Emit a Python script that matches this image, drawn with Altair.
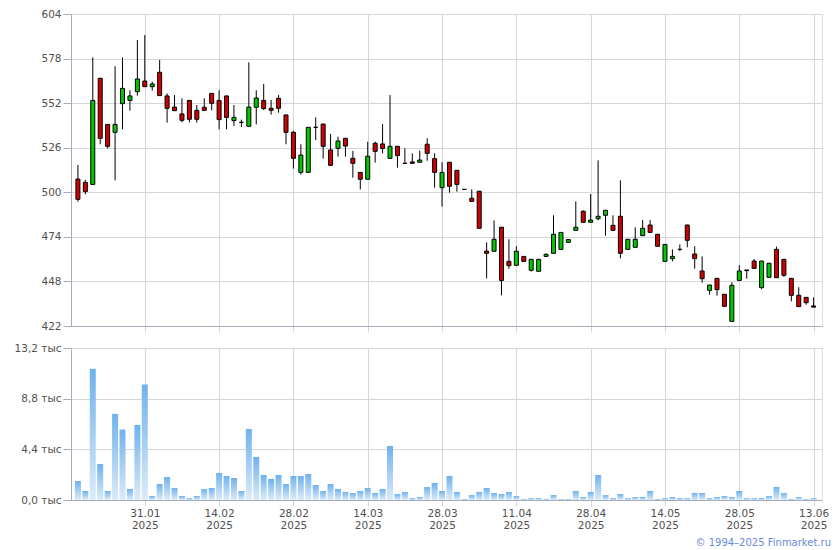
import altair as alt
import pandas as pd

# ---- data ----
tick_index = [9, 19, 29, 39, 49, 59, 69, 79, 89, 99]
tick_dates = ["31.01", "14.02", "28.02", "14.03", "28.03", "11.04", "28.04", "14.05", "28.05", "13.06"]
tick_year = "2025"

opens = [507.7, 505.8, 504.6, 566.5, 539.6, 535.0, 551.7, 553.6, 558.7, 564.9,
         561.6, 570.0, 556.2, 549.7, 545.7, 553.6, 547.8, 549.6, 557.7, 553.6,
         556.2, 541.8, 540.8, 538.5, 549.6, 553.6, 549.0, 554.8, 545.1, 535.0,
         511.6, 511.6, 537.9, 539.8, 524.7, 525.6, 531.5, 519.8, 511.6, 507.6,
         528.6, 528.2, 519.8, 526.8, 516.9, 517.7, 517.5, 528.0, 519.6, 502.7,
         517.5, 512.8, 501.7, 496.5, 500.6, 465.7, 465.6, 479.6, 459.7, 457.4,
         462.6, 454.5, 453.9, 462.6, 464.4, 466.7, 470.8, 477.8, 488.9, 482.5,
         484.6, 486.6, 480.7, 486.0, 466.7, 467.9, 474.7, 480.9, 475.5, 459.7,
         461.3, 466.7, 480.9, 464.0, 454.1, 442.8, 449.8, 440.5, 424.7, 448.6,
         454.3, 459.9, 444.4, 450.4, 466.7, 460.9, 449.8, 439.9, 438.7, 433.7]
highs = [515.9, 507.2, 578.7, 566.8, 539.8, 573.5, 578.7, 559.5, 588.8, 591.7,
         564.5, 577.2, 557.7, 556.7, 554.8, 553.8, 550.9, 554.8, 557.9, 559.5,
         556.4, 550.9, 542.4, 575.8, 559.5, 563.2, 553.8, 556.7, 545.3, 535.8,
         528.0, 537.9, 543.7, 540.0, 534.0, 532.4, 531.7, 524.1, 511.8, 529.5,
         529.5, 539.8, 556.7, 527.0, 525.6, 522.7, 524.3, 531.5, 522.7, 517.5,
         517.7, 513.0, 501.7, 501.7, 500.8, 470.8, 483.6, 479.8, 472.6, 468.5,
         462.8, 460.9, 460.9, 464.4, 486.6, 476.6, 472.4, 494.7, 489.5, 499.0,
         518.6, 489.5, 486.6, 507.0, 472.6, 479.6, 483.8, 483.8, 475.7, 469.6,
         466.7, 469.6, 481.1, 468.5, 462.6, 445.9, 450.0, 440.7, 447.5, 457.4,
         454.7, 461.0, 459.9, 458.6, 468.3, 460.9, 449.8, 444.6, 438.7, 438.7]
lows = [494.5, 498.8, 504.4, 528.0, 525.6, 507.0, 536.7, 547.6, 556.4, 561.4,
        559.3, 556.2, 540.6, 547.4, 540.8, 540.8, 540.6, 547.8, 547.8, 536.7,
        536.7, 538.7, 538.1, 538.5, 539.6, 548.0, 545.3, 546.4, 528.0, 513.8,
        510.3, 511.6, 530.5, 519.6, 515.7, 520.8, 520.8, 508.5, 501.7, 507.6,
        517.3, 522.7, 519.8, 514.4, 516.9, 516.9, 517.5, 518.4, 502.7, 491.6,
        499.8, 500.4, 501.7, 494.7, 479.0, 449.8, 465.6, 439.9, 455.4, 457.4,
        459.7, 453.8, 453.9, 462.6, 464.4, 466.7, 470.8, 477.8, 482.5, 482.5,
        483.6, 474.7, 477.8, 461.5, 466.7, 467.9, 474.7, 476.6, 468.5, 459.7,
        459.7, 465.6, 467.9, 455.4, 447.3, 440.3, 439.7, 433.5, 424.7, 448.6,
        449.6, 455.6, 443.4, 450.4, 450.2, 450.6, 436.4, 433.3, 434.4, 433.0]
closes = [495.9, 500.4, 553.6, 531.5, 526.8, 539.6, 560.6, 556.2, 566.1, 561.6,
          563.2, 556.4, 549.0, 547.6, 542.0, 542.6, 542.6, 547.8, 551.9, 542.4,
          543.7, 543.7, 540.8, 549.7, 555.0, 548.8, 547.8, 549.0, 535.0, 519.8,
          521.7, 537.9, 537.9, 526.8, 515.7, 529.9, 527.0, 516.9, 507.6, 521.0,
          523.9, 525.6, 526.8, 521.4, 516.9, 516.9, 518.8, 522.7, 511.6, 511.6,
          503.5, 504.6, 501.7, 494.7, 479.0, 464.4, 472.6, 448.6, 457.2, 465.6,
          459.7, 460.9, 460.9, 463.8, 475.5, 476.6, 472.4, 479.6, 482.5, 483.8,
          486.0, 489.5, 477.8, 464.4, 472.6, 472.6, 479.0, 476.6, 468.5, 469.6,
          462.6, 466.7, 472.0, 461.3, 449.6, 445.9, 443.2, 433.5, 445.7, 454.1,
          454.7, 455.6, 459.9, 458.6, 450.2, 451.6, 439.9, 433.3, 435.6, 433.0]
volumes = [1650, 780, 11390, 3130, 780, 7480, 6120, 960, 6520, 10030,
           350, 1390, 2000, 1040, 350, 170, 350, 960, 1040, 2350,
           2090, 1910, 780, 6170, 3740, 2170, 1830, 2170, 1390, 2090,
           2090, 2260, 1300, 780, 1390, 960, 700, 610, 780, 1040,
           610, 960, 4700, 520, 700, 170, 260, 1130, 1480, 780,
           2090, 700, 90, 430, 700, 1040, 610, 520, 700, 350,
           90, 170, 170, 90, 430, 90, 90, 780, 260, 700,
           2170, 430, 170, 520, 170, 260, 260, 780, 90, 170,
           260, 170, 170, 610, 610, 170, 260, 350, 260, 780,
           170, 170, 170, 350, 1130, 610, 90, 260, 90, 170]
price_ticks = [422, 448, 474, 500, 526, 552, 578, 604]
volume_ticks = [0, 4400, 8800, 13200]
copyright_text = "© 1994–2025 Finmarket.ru"

df = pd.DataFrame({"i": list(range(len(opens))), "open": opens, "high": highs,
                   "low": lows, "close": closes, "volume": volumes})
df["dir"] = ["up" if c > o else ("down" if c < o else "flat") for o, c in zip(opens, closes)]

FONT = "DejaVu Sans"
LABEL = "#505050"
GRID = "#d3d7dc"
DOMAIN = "#a7adb8"

xscale = alt.Scale(domain=[-0.93, 100.13], nice=False, zero=False, padding=0)
label_expr = "[" + ",".join(f"['{d}','{tick_year}']" for d in tick_dates) + "][round((datum.value-9)/10)]"

x_top = alt.X("i:Q", scale=xscale, title=None,
              axis=alt.Axis(values=tick_index, labels=False, grid=True, gridColor=GRID,
                            tickSize=6, tickColor=GRID, domainColor=DOMAIN))
x_bot = alt.X("i:Q", scale=xscale, title=None,
              axis=alt.Axis(values=tick_index, labelExpr=label_expr, grid=True, gridColor=GRID,
                            tickSize=6, tickColor=GRID, domainColor=DOMAIN, labelPadding=2,
                            labelFont=FONT, labelFontSize=10.5, labelColor=LABEL,
                            labelLineHeight=12, labelFlush=False))

yaxis_common = dict(grid=True, gridColor=GRID, tickSize=8, tickColor=DOMAIN, domainColor=DOMAIN,
                    labelPadding=2, labelFont=FONT, labelFontSize=10.5, labelColor=LABEL,
                    minExtent=62, maxExtent=62)

price_y = alt.Scale(domain=[422, 604], nice=False, zero=False)
base = alt.Chart(df)

wicks = base.mark_rule(color="black", strokeWidth=1).encode(
    x=x_top,
    y=alt.Y("low:Q", scale=price_y, title=None,
            axis=alt.Axis(values=price_ticks, labelExpr="format(datum.value, 'd')", **yaxis_common)),
    y2="high:Q",
)
bodies = base.mark_bar(size=4, stroke="black", strokeWidth=1).encode(
    x=x_top,
    y=alt.Y("open:Q", scale=price_y),
    y2="close:Q",
    color=alt.Color("dir:N", legend=None,
                    scale=alt.Scale(domain=["up", "down", "flat"],
                                    range=["#00c800", "#d00000", "#000000"])),
)
price = alt.layer(wicks, bodies).properties(width=751, height=312)

grad = alt.Gradient(gradient="linear",
                    stops=[alt.GradientStop(color="#6fb2ee", offset=0),
                           alt.GradientStop(color="#dcebf9", offset=1)],
                    x1=0, x2=0, y1=0, y2=1)
vol_bars = base.mark_bar(size=6, color=grad).encode(
    x=x_bot,
    y=alt.Y("volume:Q", scale=alt.Scale(domain=[0, 13200], nice=False, padding=0), title=None,
            axis=alt.Axis(values=volume_ticks,
                          labelExpr="replace(format(datum.value/1000, '.1f'), '.', ',') + ' тыс'",
                          **yaxis_common)),
)
copyright_mark = alt.Chart(pd.DataFrame({"t": [copyright_text]})).mark_text(
    align="right", baseline="middle", font=FONT, fontSize=10, color="#6a8ad8"
).encode(text="t:N", x=alt.value(760), y=alt.value(195))

volume = alt.layer(vol_bars, copyright_mark).properties(width=751, height=152)

chart = alt.vconcat(price, volume, spacing=9).properties(
    padding={"left": 0, "top": 0, "right": 0, "bottom": 0}
).configure_view(stroke=None).configure(background="white")

chart.save("out.html", embed_options={"renderer": "svg", "actions": False})
